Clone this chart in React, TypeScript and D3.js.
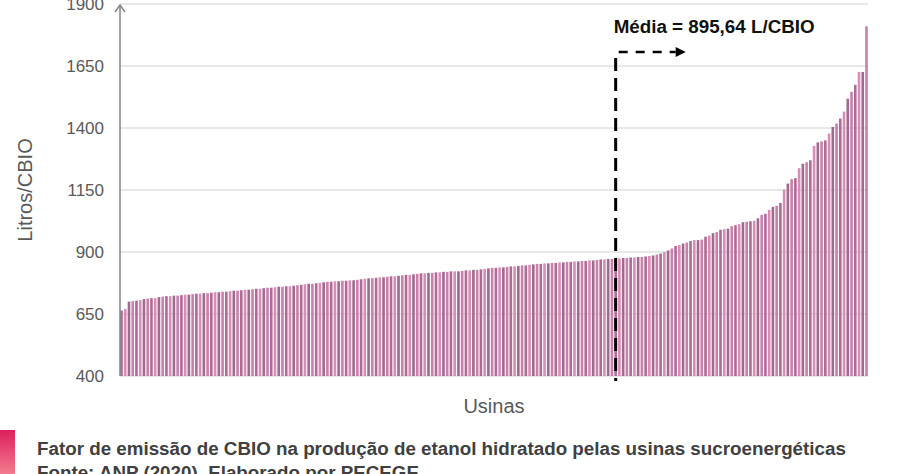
import * as d3 from "d3";
import React, { useEffect, useRef } from "react";

// Fator de emissão (L/CBIO) por usina, ordenado
const usinaValues = [
  664, 670, 700, 702, 704, 706, 710, 712, 714, 714,
  718, 720, 722, 722, 724, 724, 726, 728, 728, 730,
  732, 732, 734, 734, 736, 738, 738, 740, 740, 742,
  744, 744, 746, 748, 748, 750, 752, 752, 754, 756,
  756, 758, 760, 760, 762, 762, 764, 766, 768, 770,
  772, 772, 774, 776, 778, 780, 780, 782, 782, 784,
  784, 786, 786, 788, 790, 792, 794, 794, 796, 798,
  798, 800, 802, 802, 804, 806, 808, 808, 810, 812,
  814, 814, 816, 816, 818, 818, 820, 820, 822, 822,
  822, 824, 826, 826, 828, 828, 830, 832, 834, 836,
  836, 838, 838, 840, 842, 842, 844, 846, 846, 848,
  850, 852, 852, 854, 854, 856, 856, 858, 858, 860,
  860, 862, 862, 864, 864, 866, 866, 868, 870, 870,
  872, 872, 874, 874, 876, 876, 878, 878, 880, 880,
  882, 884, 886, 890, 894, 900, 906, 914, 924, 928,
  934, 938, 944, 948, 948, 950, 962, 966, 976, 980,
  990, 992, 994, 1004, 1008, 1012, 1020, 1022, 1024, 1026,
  1036, 1050, 1054, 1070, 1082, 1086, 1098, 1152, 1176, 1194,
  1198, 1238, 1256, 1262, 1270, 1328, 1342, 1346, 1350, 1378,
  1404, 1418, 1438, 1466, 1518, 1546, 1574, 1626, 1626, 1810,
];
const yTicks = [400, 650, 900, 1150, 1400, 1650, 1900];
const meanValue = 895.64;
const meanIndex = 132; // posição da média na ordenação

const yLabel = "Litros/CBIO";
const xLabel = "Usinas";
const caption = "Fator de emissão de CBIO na produção de etanol hidratado pelas usinas sucroenergéticas";
const source = "Fonte: ANP (2020). Elaborado por PECEGE";

const barColors = ["#ad6c95", "#d98cb7", "#9d6b8d", "#ca80ab"];

const ptBR = d3.formatLocale({ decimal: ",", thousands: ".", grouping: [3], currency: ["R$", ""] });

const App: React.FC = () => {
  const svgRef = useRef<SVGSVGElement | null>(null);

  useEffect(() => {
    if (!svgRef.current) return;
    const width = 918;
    const height = 474;
    const left = 120;
    const right = 868;
    const font = "'Liberation Sans', Arial, sans-serif";

    const x = d3
      .scaleBand<number>()
      .domain(usinaValues.map((_, i) => i))
      .range([left, right])
      .paddingInner(0.3)
      .paddingOuter(0.05);

    const y = d3.scaleLinear().domain([400, 1900]).range([376, 4]);

    const svg = d3.select(svgRef.current);
    svg.selectAll("*").remove();
    svg.attr("width", width).attr("height", height).style("font-family", font);

    const defs = svg.append("defs");
    const grad = defs
      .append("linearGradient")
      .attr("id", "capgrad")
      .attr("x1", 0)
      .attr("y1", 0)
      .attr("x2", 0)
      .attr("y2", 1);
    grad.append("stop").attr("offset", "0%").attr("stop-color", "#dc1f5c");
    grad.append("stop").attr("offset", "100%").attr("stop-color", "#f37b8e");

    // Gridlines
    svg
      .append("g")
      .selectAll("line")
      .data(yTicks)
      .join("line")
      .attr("x1", left)
      .attr("x2", right)
      .attr("y1", (d) => y(d))
      .attr("y2", (d) => y(d))
      .attr("stroke", "#e0e0e0")
      .attr("stroke-width", 1.3);

    // Bars
    svg
      .append("g")
      .selectAll("rect")
      .data(usinaValues)
      .join("rect")
      .attr("x", (_, i) => x(i)!)
      .attr("width", x.bandwidth())
      .attr("y", (d) => y(d))
      .attr("height", (d) => y(400) - y(d))
      .attr("fill", (_, i) => barColors[i % barColors.length]);

    // Y axis with arrow
    const axis = svg.append("g").attr("stroke", "#858585").attr("fill", "none").attr("stroke-width", 1.5);
    axis.append("line").attr("x1", left).attr("x2", left).attr("y1", y(400)).attr("y2", 5);
    axis.append("path").attr("d", `M${left - 5},12L${left},5L${left + 5},12`);

    // Y tick labels
    svg
      .append("g")
      .attr("text-anchor", "end")
      .attr("fill", "#595959")
      .style("font-size", "17px")
      .selectAll("text")
      .data(yTicks)
      .join("text")
      .attr("x", 104)
      .attr("y", (d) => y(d))
      .attr("dy", "0.35em")
      .text((d) => d);

    // Axis titles
    svg
      .append("text")
      .attr("transform", `translate(32,${(y(400) + y(1900)) / 2}) rotate(-90)`)
      .attr("text-anchor", "middle")
      .attr("fill", "#595959")
      .style("font-size", "20px")
      .text(yLabel);

    svg
      .append("text")
      .attr("x", (left + right) / 2)
      .attr("y", 413)
      .attr("text-anchor", "middle")
      .attr("fill", "#595959")
      .style("font-size", "20px")
      .text(xLabel);

    // Mean annotation
    const mx = x(meanIndex)! + x.bandwidth() / 2;
    svg
      .append("line")
      .attr("x1", mx)
      .attr("x2", mx)
      .attr("y1", 58)
      .attr("y2", 381)
      .attr("stroke", "#000")
      .attr("stroke-width", 3)
      .attr("stroke-dasharray", "13,7");

    svg
      .append("line")
      .attr("x1", mx + 3)
      .attr("x2", mx + 60)
      .attr("y1", 52)
      .attr("y2", 52)
      .attr("stroke", "#000")
      .attr("stroke-width", 2.6)
      .attr("stroke-dasharray", "9,8");
    svg
      .append("path")
      .attr("d", `M${mx + 60},47L${mx + 70},52L${mx + 60},57Z`)
      .attr("fill", "#000");

    svg
      .append("text")
      .attr("x", mx - 2)
      .attr("y", 33)
      .attr("fill", "#111")
      .style("font-size", "18.8px")
      .style("font-weight", "bold")
      .text(`Média = ${ptBR.format(".2f")(meanValue)} L/CBIO`);

    // Caption
    svg.append("rect").attr("x", 0).attr("y", 430).attr("width", 15).attr("height", 44).attr("fill", "url(#capgrad)");
    svg
      .append("text")
      .attr("x", 37)
      .attr("y", 455)
      .attr("fill", "#404040")
      .style("font-size", "18.8px")
      .style("font-weight", "bold")
      .text(caption);
    svg
      .append("text")
      .attr("x", 37)
      .attr("y", 479)
      .attr("fill", "#404040")
      .style("font-size", "18.8px")
      .style("font-weight", "bold")
      .text(source);
  }, []);

  return <svg ref={svgRef} style={{ position: "absolute", left: 0, top: 0, background: "#fff" }} />;
};

export default App;
